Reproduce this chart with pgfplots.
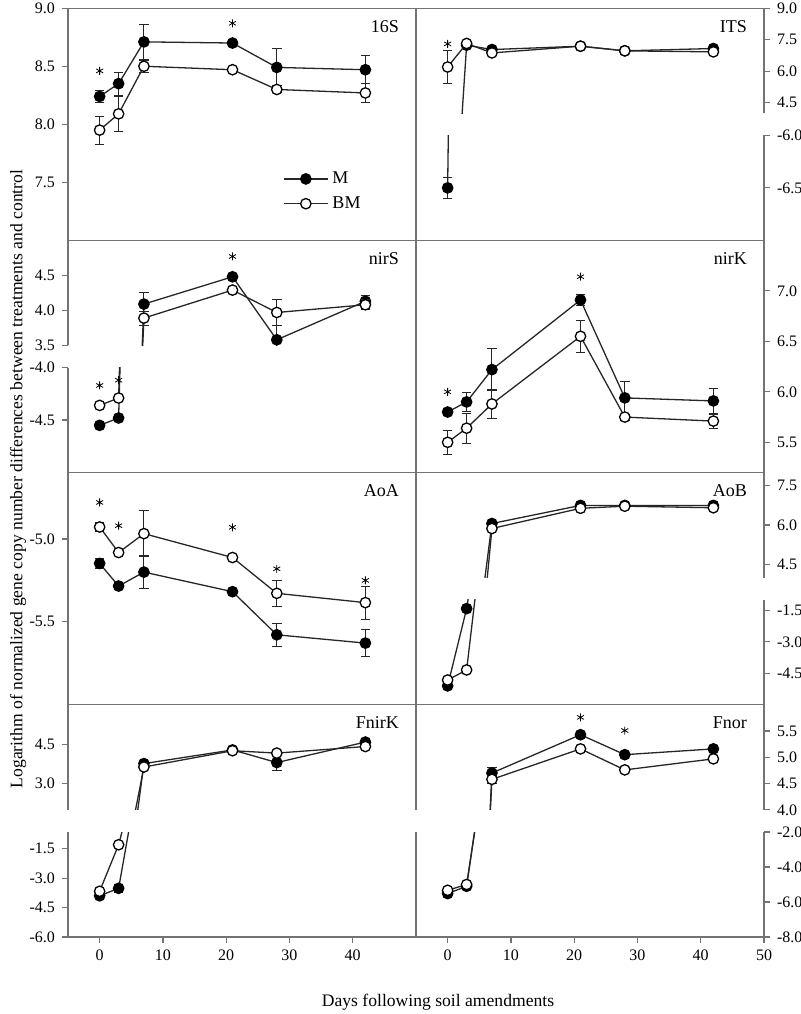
\documentclass[border=0pt]{standalone}
\usepackage{fontspec}
\setmainfont{Liberation Serif}
\usepackage{pgfplots}
\usepackage{pgfplotstable}
\pgfplotsset{compat=1.18}

% 16S
\pgfplotstableread{
x y e
0 8.24 0.05
3 8.35 0.10
7 8.71 0.15
21 8.70 0.02
28 8.49 0.16
42 8.47 0.12
}\aM
\pgfplotstableread{
x y e
0 7.95 0.12
3 8.09 0.15
7 8.50 0.05
21 8.47 0.01
28 8.30 0.03
42 8.27 0.08
}\aB
\pgfplotstableread{
x y
0 8.46
21 8.87
}\aS
% ITS
\pgfplotstableread{
x y e
0 -6.50 0.10
3 7.24 0.05
7 7.03 0.03
21 7.19 0.03
28 6.97 0.03
42 7.08 0.03
}\bM
\pgfplotstableread{
x y e
0 6.20 0.77
3 7.32 0.05
7 6.87 0.03
21 7.19 0.03
28 6.97 0.03
42 6.92 0.03
}\bB
\pgfplotstableread{
x y
0 7.30
}\bS
% nirS
\pgfplotstableread{
x y e
0 -4.55 0
3 -4.48 0
7 4.09 0.16
21 4.48 0.02
28 3.58 0.20
42 4.13 0.08
}\cM
\pgfplotstableread{
x y e
0 -4.36 0
3 -4.29 0
7 3.89 0.10
21 4.29 0.02
28 3.97 0.19
42 4.08 0.07
}\cB
\pgfplotstableread{
x y
0 -4.17
3 -4.12
21 4.77
}\cS
% nirK
\pgfplotstableread{
x y e
0 5.80 0.03
3 5.90 0.09
7 6.22 0.21
21 6.91 0.05
28 5.94 0.16
42 5.91 0.12
}\dM
\pgfplotstableread{
x y e
0 5.50 0.12
3 5.64 0.15
7 5.88 0.14
21 6.55 0.16
28 5.75 0.03
42 5.71 0.07
}\dB
\pgfplotstableread{
x y
0 6.00
21 7.14
}\dS
% AoA
\pgfplotstableread{
x y e
0 -5.148 0.03
3 -5.284 0.01
7 -5.200 0.10
21 -5.318 0.01
28 -5.578 0.07
42 -5.628 0.08
}\eM
\pgfplotstableread{
x y e
0 -4.928 0.03
3 -5.082 0.01
7 -4.968 0.14
21 -5.112 0.01
28 -5.328 0.08
42 -5.384 0.10
}\eB
\pgfplotstableread{
x y
0 -4.78
3 -4.92
21 -4.93
28 -5.18
42 -5.25
}\eS
% AoB
\pgfplotstableread{
x y e
0 -5.10 0.05
3 -1.42 0.10
7 6.06 0.05
21 6.75 0.03
28 6.75 0.03
42 6.75 0.03
}\fM
\pgfplotstableread{
x y e
0 -4.82 0.05
3 -4.34 0.05
7 5.87 0.05
21 6.64 0.03
28 6.72 0.03
42 6.66 0.03
}\fB
% FnirK
\pgfplotstableread{
x y e
0 -3.90 0.05
3 -3.52 0.20
7 3.76 0.05
21 4.28 0.05
28 3.80 0.30
42 4.58 0.05
}\gM
\pgfplotstableread{
x y e
0 -3.67 0.05
3 -1.30 0.05
7 3.63 0.05
21 4.25 0.05
28 4.16 0.05
42 4.41 0.05
}\gB
% Fnor
\pgfplotstableread{
x y e
0 -5.52 0.05
3 -5.10 0.05
7 4.70 0.10
21 5.43 0.03
28 5.05 0.03
42 5.16 0.03
}\hM
\pgfplotstableread{
x y e
0 -5.33 0.05
3 -5.00 0.05
7 4.58 0.08
21 5.16 0.03
28 4.76 0.03
42 4.97 0.03
}\hB
\pgfplotstableread{
x y
21 5.76
28 5.51
}\hS

\tikzset{
  axc/.style={black!55, line width=0.6pt},
  pname/.style={anchor=east, xshift=-5pt, yshift=-9pt, font=\fontsize{9}{10}\selectfont},
}
\pgfplotsset{
  seg/.style={scale only axis, width=174pt, xmin=-5, xmax=50, xtick=\empty,
    axis line style={draw=none}, tick align=outside, clip mode=individual,
    major tick length=3pt, tick style={black!55, line width=0.6pt},
    ticklabel style={font=\fontsize{8}{9}\selectfont},
    yticklabel style={/pgf/number format/.cd, fixed, fixed zerofill, precision=1, assume math mode=true},
    xticklabel style={/pgf/number format/assume math mode=true},
    minor tick num=0},
  L/.style={ytick pos=left},
  R/.style={ytick pos=right, yticklabel pos=right},
  full/.style={height=116.1pt, extra description/.code={\draw[axc] (0,0) rectangle (1,1);}},
  up/.style={height=52.5pt, extra description/.code={\draw[axc] (0,0)--(0,1)--(1,1)--(1,0);}},
  lo/.style={height=52.5pt, extra description/.code={\draw[axc] (0,1)--(0,0)--(1,0)--(1,1);}},
  sM/.style={black!85, line width=0.65pt, mark=*, mark size=2.6pt,
    mark options={solid, fill=black, draw=black},
    error bars/.cd, y dir=both, y explicit,
    error bar style={black!85, line width=0.5pt},
    error mark options={rotate=90, black!85, mark size=2.4pt, line width=0.5pt}},
  sB/.style={black!85, line width=0.65pt, mark=*, mark size=2.6pt,
    mark options={solid, fill=white, draw=black},
    error bars/.cd, y dir=both, y explicit,
    error bar style={black!85, line width=0.5pt},
    error mark options={rotate=90, black!85, mark size=2.4pt, line width=0.5pt}},
  st/.style={only marks, mark=asterisk, mark size=2pt, black, forget plot},
}
\newcommand{\series}[2]{%
  \addplot[sM] table[x=x,y=y,y error=e]{#1};
  \addplot[sB] table[x=x,y=y,y error=e]{#2};}
\newcommand{\stars}[1]{\addplot[st] table[x=x,y=y]{#1};}

\begin{document}
\begin{tikzpicture}
\path[use as bounding box] (0,0) rectangle (400pt,507pt);

% row 1
\begin{axis}[seg, full, L, at={(34pt,386.8pt)}, ymin=7, ymax=9, ytick={7.5,8,8.5,9},
  legend style={at={(0.6,0.09)}, anchor=south west, draw=none, fill=none,
    font=\fontsize{9}{10}\selectfont, row sep=1pt},
  legend cell align=left,
  legend image code/.code={\draw[mark repeat=2,mark phase=2] plot coordinates {(0pt,0pt)(11pt,0pt)(22pt,0pt)};}]
\series{\aM}{\aB}
\stars{\aS}
\legend{M,BM}
\node[pname] at (rel axis cs:1,1) {16S};
\end{axis}
\begin{axis}[seg, up, R, at={(208pt,450.4pt)}, ymin=4, ymax=9, ytick={4.5,6,7.5,9}]
\series{\bM}{\bB}
\stars{\bS}
\node[pname] at (rel axis cs:1,1) {ITS};
\end{axis}
\begin{axis}[seg, lo, R, at={(208pt,386.8pt)}, ymin=-7, ymax=-6, ytick={-6.5,-6}]
\series{\bM}{\bB}
\end{axis}

% row 2
\begin{axis}[seg, up, L, at={(34pt,334.3pt)}, ymin=3.5, ymax=5, ytick={3.5,4,4.5}]
\series{\cM}{\cB}
\stars{\cS}
\node[pname] at (rel axis cs:1,1) {nirS};
\end{axis}
\begin{axis}[seg, lo, L, at={(34pt,270.7pt)}, ymin=-5, ymax=-4, ytick={-4.5,-4}]
\series{\cM}{\cB}
\stars{\cS}
\end{axis}
\begin{axis}[seg, full, R, at={(208pt,270.7pt)}, ymin=5.2, ymax=7.5, ytick={5.5,6,6.5,7}]
\series{\dM}{\dB}
\stars{\dS}
\node[pname] at (rel axis cs:1,1) {nirK};
\end{axis}

% row 3
\begin{axis}[seg, full, L, at={(34pt,154.6pt)}, ymin=-6, ymax=-4.6, ytick={-5.5,-5}]
\series{\eM}{\eB}
\stars{\eS}
\node[pname] at (rel axis cs:1,1) {AoA};
\end{axis}
\begin{axis}[seg, up, R, at={(208pt,218.2pt)}, ymin=4, ymax=8, ytick={4.5,6,7.5}]
\series{\fM}{\fB}
\node[pname] at (rel axis cs:1,1) {AoB};
\end{axis}
\begin{axis}[seg, lo, R, at={(208pt,154.6pt)}, ymin=-6, ymax=-1, ytick={-4.5,-3,-1.5}]
\series{\fM}{\fB}
\end{axis}

% row 4
\begin{axis}[seg, up, L, at={(34pt,102.1pt)}, ymin=2, ymax=6, ytick={3,4.5}]
\series{\gM}{\gB}
\node[pname] at (rel axis cs:1,1) {FnirK};
\end{axis}
\begin{axis}[seg, lo, L, at={(34pt,38.5pt)}, ymin=-6, ymax=-0.65, ytick={-6,-4.5,-3,-1.5},
  xtick={0,10,20,30,40}, xtick pos=bottom]
\series{\gM}{\gB}
\end{axis}
\begin{axis}[seg, up, R, at={(208pt,102.1pt)}, ymin=4, ymax=6, ytick={4,4.5,5,5.5}]
\series{\hM}{\hB}
\stars{\hS}
\node[pname] at (rel axis cs:1,1) {Fnor};
\end{axis}
\begin{axis}[seg, lo, R, at={(208pt,38.5pt)}, ymin=-8, ymax=-2, ytick={-8,-6,-4,-2},
  xtick={0,10,20,30,40,50}, xtick pos=bottom]
\series{\hM}{\hB}
\end{axis}

\node[rotate=90, font=\fontsize{8.8}{10}\selectfont] at (9pt,267.5pt)
  {Logarithm of normalized gene copy number differences between treatments and control};
\node[font=\fontsize{8.8}{10}\selectfont] at (219pt,6pt) {Days following soil amendments};
\end{tikzpicture}
\end{document}
